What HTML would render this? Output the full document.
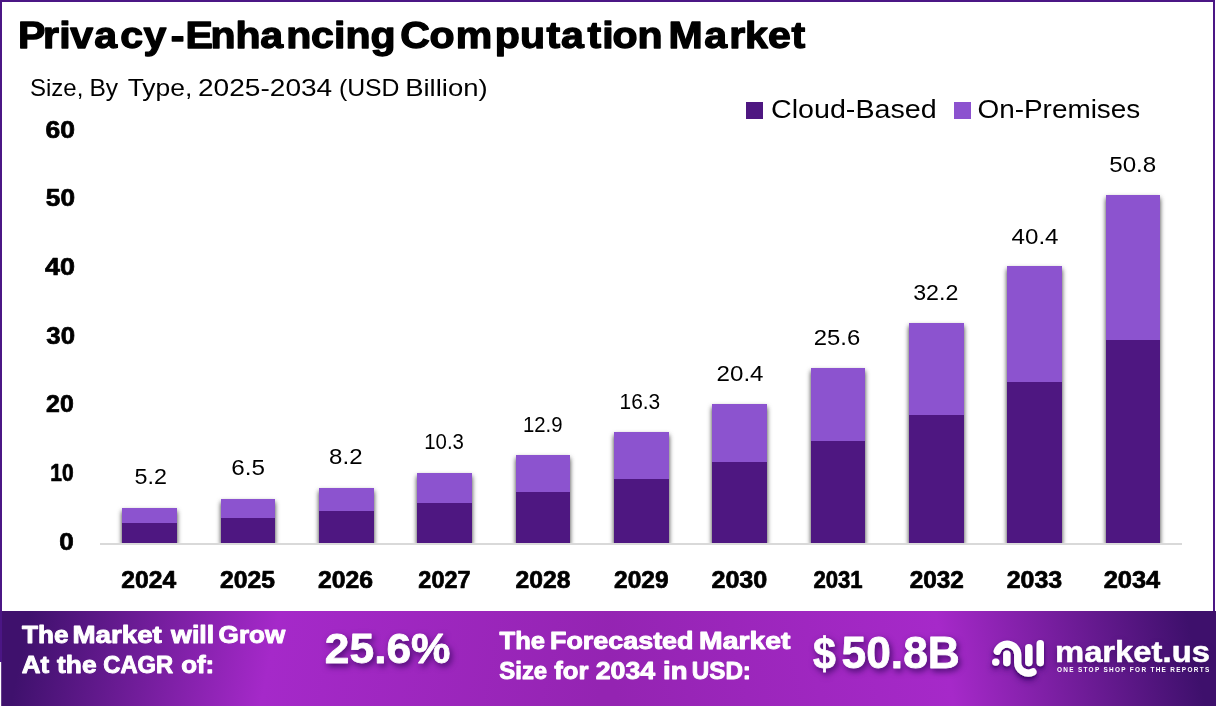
<!DOCTYPE html>
<html lang="en">
<head>
<meta charset="utf-8">
<title>Privacy-Enhancing Computation Market</title>
<style>
html,body{margin:0;padding:0;background:#fff;}
body{width:1216px;height:706px;overflow:hidden;font-family:"Liberation Sans",sans-serif;}
svg{display:block;}
svg text{font-family:"Liberation Sans",sans-serif;}
.sh{filter:drop-shadow(2px 3px 3px rgba(50,5,90,0.8));}
.sh2{filter:drop-shadow(0px 3px 3px rgba(50,10,90,0.55));}
</style>
</head>
<body>
<svg width="1216" height="706" viewBox="0 0 1216 706">
<defs>
<linearGradient id="bgL" gradientUnits="userSpaceOnUse" x1="0" y1="658.5" x2="583.9" y2="777.2">
<stop offset="0" stop-color="#3f116d"/>
<stop offset="0.033" stop-color="#3f116d"/>
<stop offset="0.444" stop-color="#a529c9"/>
<stop offset="1" stop-color="#9424b2"/>
</linearGradient>
<linearGradient id="bgR" gradientUnits="userSpaceOnUse" x1="608" y1="658.5" x2="1191.9" y2="539.8">
<stop offset="0" stop-color="#9424b2"/>
<stop offset="0.554" stop-color="#a629c9"/>
<stop offset="0.967" stop-color="#3e106c"/>
<stop offset="1" stop-color="#3e106c"/>
</linearGradient>
<filter id="bsh" x="-20%" y="-20%" width="140%" height="140%">
<feDropShadow dx="0" dy="3" stdDeviation="2.8" flood-color="#0c0c06" flood-opacity="0.8"/>
</filter>
<clipPath id="plot"><rect x="90" y="120" width="1110" height="423"/></clipPath>
<filter id="lsh" x="-30%" y="-30%" width="160%" height="180%">
<feGaussianBlur in="SourceAlpha" stdDeviation="1.2" result="b1"/>
<feOffset in="b1" dx="0" dy="1.5" result="o1"/>
<feGaussianBlur in="SourceAlpha" stdDeviation="3" result="b2"/>
<feOffset in="b2" dx="0" dy="4" result="o2"/>
<feFlood flood-color="#3a0a66" flood-opacity="0.7" result="f"/>
<feComposite in="f" in2="o1" operator="in" result="s1"/>
<feComposite in="f" in2="o2" operator="in" result="s2"/>
<feMerge><feMergeNode in="s2"/><feMergeNode in="s1"/><feMergeNode in="SourceGraphic"/></feMerge>
</filter>
</defs>
<rect x="0" y="0" width="1216" height="706" fill="#fff"/>

<g clip-path="url(#plot)"><g filter="url(#bsh)">
<rect x="122" y="508" width="55" height="35" fill="#8c52cf"/>
<rect x="221" y="499" width="54" height="44" fill="#8c52cf"/>
<rect x="319" y="488" width="55" height="55" fill="#8c52cf"/>
<rect x="417" y="473" width="55" height="70" fill="#8c52cf"/>
<rect x="516" y="455" width="54" height="88" fill="#8c52cf"/>
<rect x="614" y="432" width="55" height="111" fill="#8c52cf"/>
<rect x="712" y="404" width="55" height="139" fill="#8c52cf"/>
<rect x="811" y="368" width="54" height="175" fill="#8c52cf"/>
<rect x="909" y="323" width="55" height="220" fill="#8c52cf"/>
<rect x="1007" y="266" width="55" height="277" fill="#8c52cf"/>
<rect x="1106" y="195" width="54" height="348" fill="#8c52cf"/>
</g></g>
<rect x="122" y="523" width="55" height="20" fill="#4e1781"/>
<rect x="221" y="518" width="54" height="25" fill="#4e1781"/>
<rect x="319" y="511" width="55" height="32" fill="#4e1781"/>
<rect x="417" y="503" width="55" height="40" fill="#4e1781"/>
<rect x="516" y="492" width="54" height="51" fill="#4e1781"/>
<rect x="614" y="479" width="55" height="64" fill="#4e1781"/>
<rect x="712" y="462" width="55" height="81" fill="#4e1781"/>
<rect x="811" y="441" width="54" height="102" fill="#4e1781"/>
<rect x="909" y="415" width="55" height="128" fill="#4e1781"/>
<rect x="1007" y="382" width="55" height="161" fill="#4e1781"/>
<rect x="1106" y="340" width="54" height="203" fill="#4e1781"/>
<rect x="100" y="543" width="1082" height="2" fill="#d9d9d9"/>
<rect x="746" y="102" width="17" height="17" fill="#4e1781"/>
<rect x="954" y="102" width="17" height="17" fill="#8c52cf"/>
<rect x="0" y="611" width="609" height="95" fill="url(#bgL)"/><rect x="608" y="611" width="608" height="95" fill="url(#bgR)"/>
<rect x="0" y="0" width="1215" height="2" fill="#4b1685"/>
<rect x="0" y="0" width="2" height="662" fill="#4b1685"/>
<rect x="1213" y="0" width="2" height="611" fill="#4b1685"/>
<rect x="0" y="662" width="1.2" height="44" fill="#fff"/>
<g filter="url(#lsh)" fill="#fff" stroke="none">
<circle cx="995.75" cy="662.1" r="3.7"/>
<path d="M997.3 651.2 A10.5 10.5 0 0 1 1017.7 654.8 L1017.7 662.5 A10.5 10.5 0 0 0 1032.9 671.9" fill="none" stroke="#fff" stroke-width="7.3" stroke-linecap="round"/>
<rect x="1003.1" y="650.4" width="7.4" height="15.8" rx="3.7"/>
<rect x="1025.1" y="644" width="7.4" height="22.2" rx="3.7"/>
<rect x="1036.6" y="640" width="7.4" height="26.2" rx="3.7"/>
</g>

<text transform="scale(1.0900,1)" x="16.54 39.37 54.32 64.45 86.46 110.23 131.61 156.54 170.08 193.14 216.03 238.66 262.73 285.42 306.43 316.95 339.81" y="47.77" font-size="37.67" font-weight="bold" fill="#000" stroke="#000" stroke-width="1.3" stroke-linejoin="round">Privacy-Enhancing</text>
<text transform="scale(1.0900,1)" x="367.12 394.02 418.24 453.87 477.04 501.30 514.76 538.92 552.44 562.04 584.80" y="47.77" font-size="37.67" font-weight="bold" fill="#000" stroke="#000" stroke-width="1.3" stroke-linejoin="round">Computation</text>
<text transform="scale(1.0900,1)" x="613.31 646.00 669.05 683.46 704.68 726.17" y="47.77" font-size="37.67" font-weight="bold" fill="#000" stroke="#000" stroke-width="1.3" stroke-linejoin="round">Market</text>
<text x="29.94" y="96.00" font-size="24.44" fill="#000" textLength="53.37" lengthAdjust="spacingAndGlyphs">Size,</text>
<text x="89.43" y="96.00" font-size="24.44" fill="#000" textLength="28.67" lengthAdjust="spacingAndGlyphs">By</text>
<text x="127.67" y="96.00" font-size="24.44" fill="#000" textLength="64.75" lengthAdjust="spacingAndGlyphs">Type,</text>
<text x="198.00" y="96.00" font-size="24.44" fill="#000" textLength="134.24" lengthAdjust="spacingAndGlyphs">2025-2034</text>
<text x="338.91" y="96.00" font-size="24.44" fill="#000" textLength="60.63" lengthAdjust="spacingAndGlyphs">(USD</text>
<text x="405.20" y="96.00" font-size="24.44" fill="#000" textLength="82.45" lengthAdjust="spacingAndGlyphs">Billion)</text>
<text x="770.97" y="117.65" font-size="25.21" fill="#000" textLength="165.74" lengthAdjust="spacingAndGlyphs">Cloud-Based</text>
<text x="977.48" y="117.65" font-size="25.21" fill="#000" textLength="162.85" lengthAdjust="spacingAndGlyphs">On-Premises</text>
<text x="45.56" y="137.51" font-size="23.80" font-weight="bold" fill="#000" stroke="#000" stroke-width="0.7" stroke-linejoin="round" textLength="29.45" lengthAdjust="spacingAndGlyphs">60</text>
<text x="45.86" y="206.19" font-size="23.80" font-weight="bold" fill="#000" stroke="#000" stroke-width="0.7" stroke-linejoin="round" textLength="29.13" lengthAdjust="spacingAndGlyphs">50</text>
<text x="45.08" y="274.87" font-size="23.80" font-weight="bold" fill="#000" stroke="#000" stroke-width="0.7" stroke-linejoin="round" textLength="29.94" lengthAdjust="spacingAndGlyphs">40</text>
<text x="46.33" y="343.55" font-size="23.80" font-weight="bold" fill="#000" stroke="#000" stroke-width="0.7" stroke-linejoin="round" textLength="28.65" lengthAdjust="spacingAndGlyphs">30</text>
<text x="46.10" y="412.23" font-size="23.80" font-weight="bold" fill="#000" stroke="#000" stroke-width="0.7" stroke-linejoin="round" textLength="27.64" lengthAdjust="spacingAndGlyphs">20</text>
<text x="50.29" y="480.91" font-size="23.80" font-weight="bold" fill="#000" stroke="#000" stroke-width="0.7" stroke-linejoin="round" textLength="23.32" lengthAdjust="spacingAndGlyphs">10</text>
<text x="59.37" y="549.59" font-size="23.80" font-weight="bold" fill="#000" stroke="#000" stroke-width="0.7" stroke-linejoin="round" textLength="14.53" lengthAdjust="spacingAndGlyphs">0</text>
<text x="121.31" y="587.61" font-size="23.52" font-weight="bold" fill="#000" stroke="#000" stroke-width="0.7" stroke-linejoin="round" textLength="54.84" lengthAdjust="spacingAndGlyphs">2024</text>
<text x="220.01" y="587.61" font-size="23.52" font-weight="bold" fill="#000" stroke="#000" stroke-width="0.7" stroke-linejoin="round" textLength="54.99" lengthAdjust="spacingAndGlyphs">2025</text>
<text x="318.01" y="587.61" font-size="23.52" font-weight="bold" fill="#000" stroke="#000" stroke-width="0.7" stroke-linejoin="round" textLength="55.14" lengthAdjust="spacingAndGlyphs">2026</text>
<text x="418.35" y="587.61" font-size="23.52" font-weight="bold" fill="#000" stroke="#000" stroke-width="0.7" stroke-linejoin="round" textLength="52.25" lengthAdjust="spacingAndGlyphs">2027</text>
<text x="515.41" y="587.61" font-size="23.52" font-weight="bold" fill="#000" stroke="#000" stroke-width="0.7" stroke-linejoin="round" textLength="54.99" lengthAdjust="spacingAndGlyphs">2028</text>
<text x="614.11" y="587.61" font-size="23.52" font-weight="bold" fill="#000" stroke="#000" stroke-width="0.7" stroke-linejoin="round" textLength="54.52" lengthAdjust="spacingAndGlyphs">2029</text>
<text x="711.40" y="587.61" font-size="23.52" font-weight="bold" fill="#000" stroke="#000" stroke-width="0.7" stroke-linejoin="round" textLength="55.96" lengthAdjust="spacingAndGlyphs">2030</text>
<text x="813.39" y="587.61" font-size="23.52" font-weight="bold" fill="#000" stroke="#000" stroke-width="0.7" stroke-linejoin="round" textLength="49.24" lengthAdjust="spacingAndGlyphs">2031</text>
<text x="909.72" y="587.61" font-size="23.52" font-weight="bold" fill="#000" stroke="#000" stroke-width="0.7" stroke-linejoin="round" textLength="54.21" lengthAdjust="spacingAndGlyphs">2032</text>
<text x="1006.70" y="587.61" font-size="23.52" font-weight="bold" fill="#000" stroke="#000" stroke-width="0.7" stroke-linejoin="round" textLength="55.55" lengthAdjust="spacingAndGlyphs">2033</text>
<text x="1103.69" y="587.61" font-size="23.52" font-weight="bold" fill="#000" stroke="#000" stroke-width="0.7" stroke-linejoin="round" textLength="56.56" lengthAdjust="spacingAndGlyphs">2034</text>
<text x="134.47" y="484.38" font-size="21.97" fill="#000" textLength="32.41" lengthAdjust="spacingAndGlyphs">5.2</text>
<text x="231.39" y="474.78" font-size="21.97" fill="#000" textLength="33.69" lengthAdjust="spacingAndGlyphs">6.5</text>
<text x="329.14" y="464.38" font-size="21.97" fill="#000" textLength="33.37" lengthAdjust="spacingAndGlyphs">8.2</text>
<text x="424.27" y="449.48" font-size="21.97" fill="#000" textLength="39.66" lengthAdjust="spacingAndGlyphs">10.3</text>
<text x="522.88" y="431.78" font-size="21.97" fill="#000" textLength="39.56" lengthAdjust="spacingAndGlyphs">12.9</text>
<text x="619.54" y="408.78" font-size="21.97" fill="#000" textLength="40.72" lengthAdjust="spacingAndGlyphs">16.3</text>
<text x="716.59" y="380.68" font-size="21.97" fill="#000" textLength="46.94" lengthAdjust="spacingAndGlyphs">20.4</text>
<text x="813.81" y="344.88" font-size="21.97" fill="#000" textLength="46.46" lengthAdjust="spacingAndGlyphs">25.6</text>
<text x="913.20" y="299.78" font-size="21.97" fill="#000" textLength="45.17" lengthAdjust="spacingAndGlyphs">32.2</text>
<text x="1011.52" y="243.68" font-size="21.97" fill="#000" textLength="47.01" lengthAdjust="spacingAndGlyphs">40.4</text>
<text x="1109.23" y="172.38" font-size="21.97" fill="#000" textLength="47.04" lengthAdjust="spacingAndGlyphs">50.8</text>
<text x="21.99" y="642.95" font-size="22.99" font-weight="bold" fill="#fff" stroke="#fff" stroke-width="0.9" stroke-linejoin="round" textLength="46.44" lengthAdjust="spacingAndGlyphs">The</text>
<text x="72.49" y="642.95" font-size="22.99" font-weight="bold" fill="#fff" stroke="#fff" stroke-width="0.9" stroke-linejoin="round" textLength="89.35" lengthAdjust="spacingAndGlyphs">Market</text>
<text x="171.12" y="642.95" font-size="22.99" font-weight="bold" fill="#fff" stroke="#fff" stroke-width="0.9" stroke-linejoin="round" textLength="43.04" lengthAdjust="spacingAndGlyphs">will</text>
<text x="218.61" y="642.95" font-size="22.99" font-weight="bold" fill="#fff" stroke="#fff" stroke-width="0.9" stroke-linejoin="round" textLength="66.69" lengthAdjust="spacingAndGlyphs">Grow</text>
<text x="21.73" y="672.75" font-size="22.99" font-weight="bold" fill="#fff" stroke="#fff" stroke-width="0.9" stroke-linejoin="round" textLength="27.40" lengthAdjust="spacingAndGlyphs">At</text>
<text x="57.09" y="672.75" font-size="22.99" font-weight="bold" fill="#fff" stroke="#fff" stroke-width="0.9" stroke-linejoin="round" textLength="39.55" lengthAdjust="spacingAndGlyphs">the</text>
<text x="103.30" y="672.75" font-size="22.99" font-weight="bold" fill="#fff" stroke="#fff" stroke-width="0.9" stroke-linejoin="round" textLength="69.84" lengthAdjust="spacingAndGlyphs">CAGR</text>
<text x="181.17" y="672.75" font-size="22.99" font-weight="bold" fill="#fff" stroke="#fff" stroke-width="0.9" stroke-linejoin="round" textLength="33.09" lengthAdjust="spacingAndGlyphs">of:</text>
<text x="499.59" y="648.85" font-size="22.99" font-weight="bold" fill="#fff" stroke="#fff" stroke-width="0.9" stroke-linejoin="round" textLength="45.42" lengthAdjust="spacingAndGlyphs">The</text>
<text x="550.04" y="648.85" font-size="22.99" font-weight="bold" fill="#fff" stroke="#fff" stroke-width="0.9" stroke-linejoin="round" textLength="143.45" lengthAdjust="spacingAndGlyphs">Forecasted</text>
<text x="699.05" y="648.85" font-size="22.99" font-weight="bold" fill="#fff" stroke="#fff" stroke-width="0.9" stroke-linejoin="round" textLength="91.28" lengthAdjust="spacingAndGlyphs">Market</text>
<text x="499.37" y="678.55" font-size="22.99" font-weight="bold" fill="#fff" stroke="#fff" stroke-width="0.9" stroke-linejoin="round" textLength="47.80" lengthAdjust="spacingAndGlyphs">Size</text>
<text x="554.29" y="678.55" font-size="22.99" font-weight="bold" fill="#fff" stroke="#fff" stroke-width="0.9" stroke-linejoin="round" textLength="34.19" lengthAdjust="spacingAndGlyphs">for</text>
<text x="595.75" y="678.55" font-size="22.99" font-weight="bold" fill="#fff" stroke="#fff" stroke-width="0.9" stroke-linejoin="round" textLength="59.50" lengthAdjust="spacingAndGlyphs">2034</text>
<text x="663.00" y="678.55" font-size="22.99" font-weight="bold" fill="#fff" stroke="#fff" stroke-width="0.9" stroke-linejoin="round" textLength="24.42" lengthAdjust="spacingAndGlyphs">in</text>
<text x="691.80" y="678.55" font-size="22.99" font-weight="bold" fill="#fff" stroke="#fff" stroke-width="0.9" stroke-linejoin="round" textLength="59.10" lengthAdjust="spacingAndGlyphs">USD:</text>
<text x="324.87" y="663.27" font-size="43.38" font-weight="bold" fill="#fff" stroke="#fff" stroke-width="0.8" stroke-linejoin="round" textLength="125.68" lengthAdjust="spacingAndGlyphs" class="sh">25.6%</text>
<text x="812.89" y="669.13" font-size="43.90" font-weight="bold" fill="#fff" stroke="#fff" stroke-width="0.8" stroke-linejoin="round" textLength="22.86" lengthAdjust="spacingAndGlyphs" class="sh">$</text>
<text x="841.57" y="668.06" font-size="43.66" font-weight="bold" fill="#fff" stroke="#fff" stroke-width="0.8" stroke-linejoin="round" textLength="118.20" lengthAdjust="spacingAndGlyphs" class="sh">50.8B</text>
<text x="1054.98" y="661.65" font-size="28.77" font-weight="bold" fill="#fff" stroke="#fff" stroke-width="0.5" stroke-linejoin="round" textLength="154.95" lengthAdjust="spacingAndGlyphs" class="sh2">market.us</text>
<text x="1056.94" y="671.50" font-size="6.43" font-weight="bold" fill="#fff" textLength="152.29" lengthAdjust="spacing">ONE STOP SHOP FOR THE REPORTS</text>
</svg>
</body>
</html>
